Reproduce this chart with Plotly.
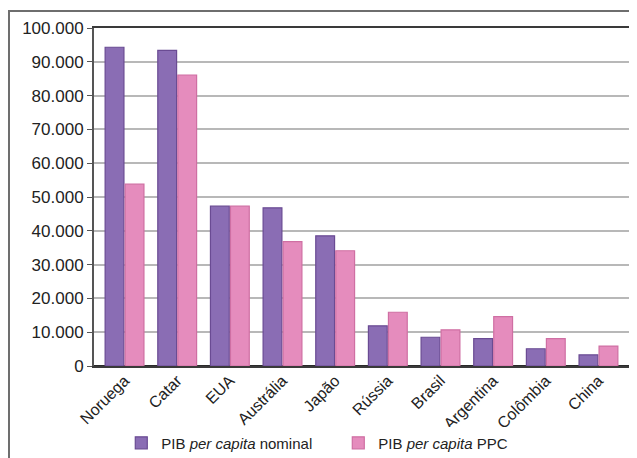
import plotly.graph_objects as go

paises = ["Noruega", "Catar", "EUA", "Austrália", "Japão", "Rússia", "Brasil", "Argentina", "Colômbia", "China"]
pib_nominal = [94300, 93400, 47300, 46800, 38500, 11900, 8500, 8100, 5100, 3300]
pib_ppc = [53800, 86100, 47300, 36800, 34100, 15900, 10700, 14600, 8100, 5900]
y_ticks = [0, 10000, 20000, 30000, 40000, 50000, 60000, 70000, 80000, 90000, 100000]

fig = go.Figure()
fig.add_trace(go.Bar(
    x=paises, y=pib_nominal, name="PIB <i>per capita</i> nominal",
    marker=dict(color="#8a6db4", line=dict(color="#6a4b93", width=1.2)),
))
fig.add_trace(go.Bar(
    x=paises, y=pib_ppc, name="PIB <i>per capita</i> PPC",
    marker=dict(color="#e58cbd", line=dict(color="#cf6fa3", width=1.2)),
))

fig.update_layout(
    width=629, height=450,
    margin=dict(l=86, r=8, t=20, b=92, autoexpand=False),
    paper_bgcolor="white", plot_bgcolor="white",
    separators=",.",
    barmode="group", bargap=0.24, bargroupgap=0.06,
    font=dict(family="Liberation Sans, Arial, sans-serif", color="#222222", size=14),
    showlegend=True,
    legend=dict(orientation="h", x=0.051, xanchor="left", y=-0.228, yanchor="middle",
                font=dict(size=15), itemwidth=30, tracegroupgap=0,
                entrywidth=172, entrywidthmode="pixels"),
    shapes=[dict(type="rect", xref="paper", yref="paper",
                 x0=-0.1589, x1=1.2, y0=-0.6, y1=1.0503,
                 line=dict(color="#6e6e6e", width=2), layer="below")],
)
fig.update_xaxes(
    tickangle=-45, tickfont=dict(size=16), showgrid=False,
    showline=True, linecolor="#3a3a3a", linewidth=2, mirror=True,
    ticks="", range=[-0.58, 9.58], automargin=False, ticklabelstandoff=-3,
)
fig.update_yaxes(
    range=[0, 100000], tickvals=y_ticks, tickformat=",d",
    tickfont=dict(size=17), showgrid=True, gridcolor="#b8b8b8", gridwidth=2,
    showline=True, linecolor="#555555", linewidth=2, mirror=True,
    ticks="outside", ticklen=5, tickcolor="#555555", zeroline=True,
    zerolinecolor="#2a2a2a", zerolinewidth=2, automargin=False,
)

fig.write_html("out.html")
